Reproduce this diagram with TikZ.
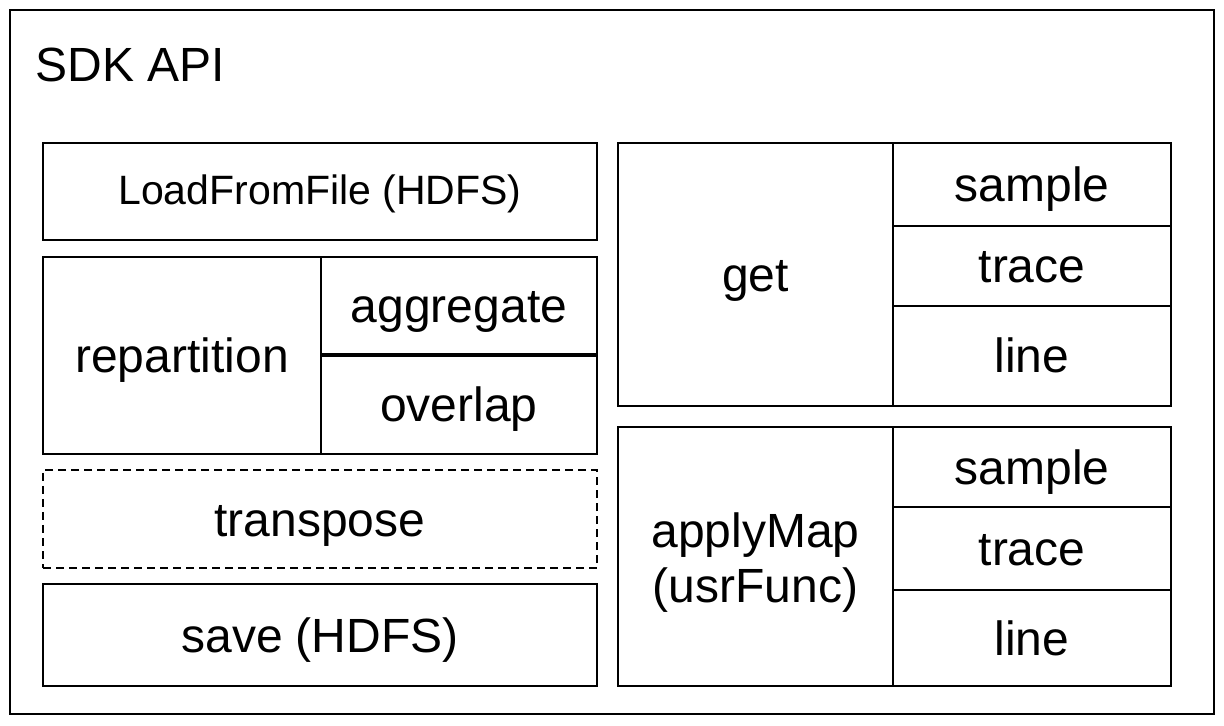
\documentclass[tikz,border=0pt]{standalone}
\usepackage{fontspec}
\setmainfont{Liberation Sans}
\begin{document}
\begin{tikzpicture}[x=0.5pt,y=-0.5pt,
  cell/.style={draw, line width=1pt, rectangle, inner sep=0pt, outer sep=0pt,
    font=\fontsize{24pt}{27.5pt}\selectfont, text height=20pt, text depth=3pt},
  smallcell/.style={cell, font=\fontsize{20.5pt}{24pt}\selectfont, text height=16.5pt, text depth=3pt},
  dashcell/.style={cell, dash pattern=on 4pt off 2.5pt}]
\useasboundingbox (0,0) rectangle (1224,726);
\node[draw, line width=1pt, rectangle, inner sep=0pt, minimum width=602pt, minimum height=352pt] (sdk) at (612,362) {};
\node[anchor=base west, inner sep=0pt, font=\fontsize{24pt}{28pt}\selectfont] (title) at (35,82) {SDK API};
% left column
\node[smallcell, minimum width=277pt, minimum height=48.5pt] (load) at (320,191.5) {LoadFromFile (HDFS)};
\node[cell, minimum width=139pt, minimum height=98.5pt] (rep) at (182,355.5) {repartition};
\node[cell, minimum width=138pt, minimum height=49pt] (agg) at (459,306) {aggregate};
\node[cell, minimum width=138pt, minimum height=49.5pt] (ovl) at (459,404.5) {overlap};
\draw[line width=1.6pt] (agg.south west) -- (agg.south east);
\node[dashcell, minimum width=277pt, minimum height=49pt] (trans) at (320,519) {transpose};
\node[cell, minimum width=277pt, minimum height=51pt] (save) at (320,635) {save (HDFS)};
% right column: get
\node[cell, minimum width=137.5pt, minimum height=131.5pt] (get) at (755.5,274.5) {get};
\node[cell, minimum width=139pt, minimum height=41.5pt] (gs) at (1032,184.5) {sample};
\node[cell, minimum width=139pt, minimum height=40pt] (gt) at (1032,266) {trace};
\node[cell, minimum width=139pt, minimum height=50pt] (gl) at (1032,356) {line};
% right column: applyMap
\node[draw, line width=1pt, rectangle, inner sep=0pt, outer sep=0pt, minimum width=137.5pt, minimum height=129.5pt] (apply) at (755.5,556.5) {};
\node[align=center, inner sep=0pt, font=\fontsize{24pt}{27.5pt}\selectfont] (applytext) at ([yshift=-3pt]apply.center) {applyMap\\(usrFunc)};
\node[cell, minimum width=139pt, minimum height=40pt] (as) at (1032,467) {sample};
\node[cell, minimum width=139pt, minimum height=41.5pt] (at) at (1032,548.5) {trace};
\node[cell, minimum width=139pt, minimum height=48pt] (al) at (1032,638) {line};
\end{tikzpicture}
\end{document}
